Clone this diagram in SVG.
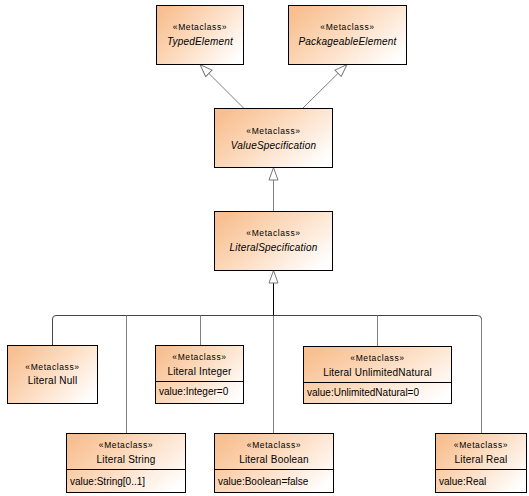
<svg xmlns="http://www.w3.org/2000/svg" width="529" height="496" viewBox="0 0 529 496">
<defs>
<linearGradient id="g" x1="0" y1="0.2" x2="1" y2="0.8">
<stop offset="0" stop-color="#F8BF90"/>
<stop offset="0.45" stop-color="#FCDBBF"/>
<stop offset="1" stop-color="#FFFFFF"/>
</linearGradient>
<marker id="tri" markerUnits="userSpaceOnUse" markerWidth="14" markerHeight="11" refX="12.5" refY="4.5" orient="auto" overflow="visible">
<path d="M0,0 L12.5,4.5 L0,9 Z" fill="#fff" stroke="#777" stroke-width="1"/>
</marker>
</defs>
<style>
.box{fill:url(#g);stroke:#000;stroke-width:1}
.div{stroke:#000;stroke-width:1}
.st{font-family:"Liberation Sans",Arial,sans-serif;font-size:8.5px;letter-spacing:0.6px;text-anchor:middle;fill:#000}
.nm{font-family:"Liberation Sans",Arial,sans-serif;font-size:10px;letter-spacing:0.2px;text-anchor:middle;fill:#000}
.ab{font-style:italic}
.at{font-family:"Liberation Sans",Arial,sans-serif;font-size:10px;fill:#000}
.c{fill:none;stroke:#808080;stroke-width:1}
.cb{fill:none;stroke:#444;stroke-width:1}
</style>
<g id="connectors">
<line class="c" x1="243.5" y1="108" x2="200" y2="64.5" marker-end="url(#tri)"/>
<line class="c" x1="303" y1="108" x2="347" y2="64.5" marker-end="url(#tri)"/>
<line class="c" x1="273.5" y1="212" x2="273.5" y2="167.5" marker-end="url(#tri)"/>
<path class="cb" d="M52.5,345 V319 Q52.5,315.5 56,315.5 H477.5 Q481.5,315.5 481.5,319 V433"/>
<line class="c" x1="126.5" y1="315.5" x2="126.5" y2="433"/>
<line class="c" x1="200.5" y1="315.5" x2="200.5" y2="345"/>
<line class="c" x1="273.5" y1="315.5" x2="273.5" y2="433"/>
<line class="c" x1="377.5" y1="315.5" x2="377.5" y2="346"/>
<line class="c" x1="481.5" y1="319" x2="481.5" y2="433"/>
<line stroke="#000" stroke-width="1" x1="273.5" y1="315.5" x2="273.5" y2="270.5" marker-end="url(#tri)"/>
</g>
<g id="TypedElement">
<rect class="box" x="156.5" y="5.5" width="87" height="59"/>
<text class="st" x="200" y="30">«Metaclass»</text>
<text class="nm ab" x="200" y="45">TypedElement</text>
</g>
<g id="PackageableElement">
<rect class="box" x="288.5" y="5.5" width="118" height="59"/>
<text class="st" x="347.5" y="30">«Metaclass»</text>
<text class="nm ab" x="347.5" y="45">PackageableElement</text>
</g>
<g id="ValueSpecification">
<rect class="box" x="214.5" y="108.5" width="118" height="59"/>
<text class="st" x="273.5" y="134">«Metaclass»</text>
<text class="nm ab" x="273.5" y="149">ValueSpecification</text>
</g>
<g id="LiteralSpecification">
<rect class="box" x="214.5" y="211.5" width="118" height="59"/>
<text class="st" x="273.5" y="236">«Metaclass»</text>
<text class="nm ab" x="273.5" y="251">LiteralSpecification</text>
</g>
<g id="LiteralNull">
<rect class="box" x="7.5" y="345.5" width="90" height="58"/>
<text class="st" x="52.5" y="370">«Metaclass»</text>
<text class="nm" x="52.5" y="384">Literal Null</text>
</g>
<g id="LiteralInteger">
<rect class="box" x="155.5" y="345.5" width="88" height="58"/>
<line class="div" x1="155.5" y1="381.5" x2="243.5" y2="381.5"/>
<text class="st" x="199.5" y="360">«Metaclass»</text>
<text class="nm" x="199.5" y="375">Literal Integer</text>
<text class="at" x="159" y="395">value:Integer=0</text>
</g>
<g id="LiteralUnlimitedNatural">
<rect class="box" x="303.5" y="346.5" width="148" height="57"/>
<line class="div" x1="303.5" y1="382.5" x2="451.5" y2="382.5"/>
<text class="st" x="377.5" y="361">«Metaclass»</text>
<text class="nm" x="377.5" y="376">Literal UnlimitedNatural</text>
<text class="at" x="307" y="396">value:UnlimitedNatural=0</text>
</g>
<g id="LiteralString">
<rect class="box" x="66.5" y="433.5" width="119" height="59"/>
<line class="div" x1="66.5" y1="469.5" x2="185.5" y2="469.5"/>
<text class="st" x="126" y="448">«Metaclass»</text>
<text class="nm" x="126" y="463">Literal String</text>
<text class="at" x="70" y="485">value:String[0..1]</text>
</g>
<g id="LiteralBoolean">
<rect class="box" x="214.5" y="433.5" width="119" height="59"/>
<line class="div" x1="214.5" y1="469.5" x2="333.5" y2="469.5"/>
<text class="st" x="274" y="448">«Metaclass»</text>
<text class="nm" x="274" y="463">Literal Boolean</text>
<text class="at" x="218" y="485">value:Boolean=false</text>
</g>
<g id="LiteralReal">
<rect class="box" x="435.5" y="433.5" width="91" height="59"/>
<line class="div" x1="435.5" y1="469.5" x2="526.5" y2="469.5"/>
<text class="st" x="481" y="448">«Metaclass»</text>
<text class="nm" x="481" y="463">Literal Real</text>
<text class="at" x="439" y="485">value:Real</text>
</g>
</svg>
